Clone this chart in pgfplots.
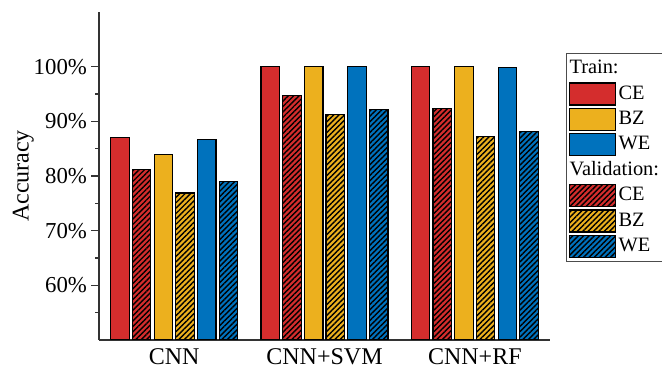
\documentclass[border=0pt]{standalone}
\usepackage{pgfplots}
\pgfplotsset{compat=1.18}
\usepackage{pgfplotstable}
\usepackage{fontspec}
\setmainfont{Liberation Serif}
\usetikzlibrary{patterns.meta}

\definecolor{ceRed}{RGB}{212,45,45}
\definecolor{bzYellow}{RGB}{236,176,30}
\definecolor{weBlue}{RGB}{0,114,189}

\tikzset{hatched/.style={postaction={pattern={Lines[angle=45,distance=1.9pt,line width=0.7pt]},pattern color=black}}}

% accuracy (%) per model: train / validation for each feature set
\pgfplotstableread{
x CEtr CEva BZtr BZva WEtr WEva
0 87.0 81.2 83.9 76.9 86.7 79.0
1 100  94.7 100  91.3 100  92.2
2 100  92.4 100  87.2 99.9 88.1
}\acc

\begin{document}
\begin{tikzpicture}
\useasboundingbox (-49.5pt,-14pt) rectangle (281.5pt,170pt);
\begin{axis}[
  at={(0,0)}, anchor=south west,
  scale only axis, width=225.5pt, height=164pt,
  xmin=-0.5, xmax=2.5, ymin=50, ymax=110,
  axis lines*=left,
  axis line style={line width=0.6pt, black!80},
  xtick={0,1,2}, xticklabels={CNN,CNN+SVM,CNN+RF},
  x tick style={draw=none},
  ytick={60,70,80,90,100}, minor ytick={55,65,75,85,95},
  tick align=outside, major tick length=4pt, minor tick length=2pt,
  y tick style={line width=0.6pt, black!80},
  yticklabel={\pgfmathprintnumber{\tick}\%},
  /pgf/number format/assume math mode=true,
  y tick label style={font=\fontsize{11.4}{13}\selectfont, xshift=1.5pt},
  x tick label style={font=\fontsize{12}{14}\selectfont, yshift=3.2pt},
  ylabel={Accuracy},
  every axis y label/.style={at={(axis description cs:-0.168,0.5)}, anchor=center, rotate=90, font=\fontsize{12}{14}\selectfont},
  bar width=9.25pt,
  every axis plot/.append style={draw=black, line width=0.6pt},
  legend image code/.code={\draw[#1] (0pt,-5.5pt) rectangle (23pt,5.5pt);},
  legend cell align=left,
  legend style={at={(rel axis cs:1.0355,0.875)}, anchor=north west,
    draw=black!70, line width=0.5pt, inner sep=1.2pt,
    font=\fontsize{10.2}{12}\selectfont,
    nodes={inner xsep=1.2pt, inner ysep=0pt, text height=8.9pt, text depth=3.8pt},
    /tikz/every even column/.append style={column sep=0.5pt}},
]
\addlegendimage{empty legend}\addlegendentry{\hspace*{-24.5pt}Train:}
\addplot[ybar, bar shift=-27.1pt, fill=ceRed] table[x=x,y=CEtr]{\acc};
\addlegendentry{CE}
\addplot[ybar, bar shift=-5.4pt, fill=bzYellow] table[x=x,y=BZtr]{\acc};
\addlegendentry{BZ}
\addplot[ybar, bar shift=16.3pt, fill=weBlue] table[x=x,y=WEtr]{\acc};
\addlegendentry{WE}
\addlegendimage{empty legend}\addlegendentry{\hspace*{-24.5pt}Validation:}
\addplot[ybar, bar shift=-16.3pt, fill=ceRed, hatched] table[x=x,y=CEva]{\acc};
\addlegendentry{CE}
\addplot[ybar, bar shift=5.4pt, fill=bzYellow, hatched] table[x=x,y=BZva]{\acc};
\addlegendentry{BZ}
\addplot[ybar, bar shift=27.1pt, fill=weBlue, hatched] table[x=x,y=WEva]{\acc};
\addlegendentry{WE}
\end{axis}
\end{tikzpicture}
\end{document}
